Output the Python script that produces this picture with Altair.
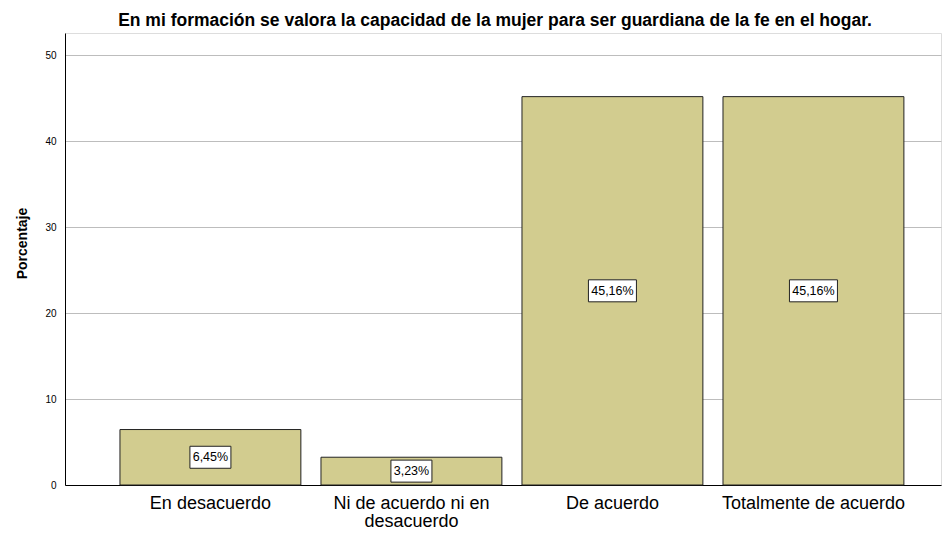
import altair as alt
import pandas as pd

categories = ["En desacuerdo", "Ni de acuerdo ni en desacuerdo", "De acuerdo", "Totalmente de acuerdo"]
percentages = [6.45, 3.23, 45.16, 45.16]
labels = ["6,45%", "3,23%", "45,16%", "45,16%"]

title_text = "En mi formación se valora la capacidad de la mujer para ser guardiana de la fe en el hogar."
y_title = "Porcentaje"
y_ticks = [0, 10, 20, 30, 40, 50]

df = pd.DataFrame({"cat": categories, "pct": percentages, "label": labels})

FONT = "Liberation Sans"

wrap_expr = ("datum.value == 'Ni de acuerdo ni en desacuerdo' ? "
             "['Ni de acuerdo ni en', 'desacuerdo'] : datum.value")

x_enc = alt.X(
    "cat:N", sort=categories, title=None,
    scale=alt.Scale(paddingInner=0.1, paddingOuter=0.229, align=0.597),
    axis=alt.Axis(labelAngle=0, ticks=False, domain=True, domainColor="black",
                  domainWidth=1, labelFontSize=18, labelFont=FONT, labelColor="black",
                  labelPadding=9, labelLineHeight=18, labelExpr=wrap_expr,
                  labelLimit=400, grid=False),
)

y_enc = alt.Y(
    "pct:Q", title=y_title,
    scale=alt.Scale(domain=[0, 52.56], nice=False, zero=True),
    axis=alt.Axis(values=y_ticks, ticks=False, grid=True, gridColor="#BDBDBD",
                  gridWidth=1, domainColor="black", domainWidth=1,
                  labelFont=FONT, labelFontSize=10, labelColor="black", labelPadding=9,
                  titleFont=FONT, titleFontSize=14, titleFontWeight="bold",
                  titleColor="black", titleX=-43, titleY=210, titleAngle=270,
                  titleAlign="center", titleBaseline="middle"),
)

base = alt.Chart(df)

bars = base.mark_bar(fill="#D2CC8F", stroke="#222222", strokeWidth=1).encode(
    x=x_enc, y=y_enc
)

boxes = base.transform_calculate(
    mid="datum.pct / 2",
    w="7 * length(datum.label) + 6",
).transform_calculate(
    shp="'M-1,-' + (22 / datum.w) + 'H1V' + (22 / datum.w) + 'H-1Z'",
    sz="datum.w * datum.w",
).mark_point(filled=True, fill="white", stroke="#222222", strokeWidth=1, opacity=1).encode(
    x=alt.X("cat:N", sort=categories),
    y=alt.Y("mid:Q"),
    shape=alt.Shape("shp:N", scale=None),
    size=alt.Size("sz:Q", scale=None),
)

texts = base.transform_calculate(mid="datum.pct / 2").mark_text(
    font=FONT, fontSize=12.5, color="black", baseline="middle", align="center"
).encode(
    x=alt.X("cat:N", sort=categories),
    y=alt.Y("mid:Q"),
    text="label:N",
)

chart = alt.layer(bars, boxes, texts).properties(
    width=876,
    height=452,
    padding={"left": 57, "top": 25, "right": 1, "bottom": 47},
    autosize="none",
    title=alt.TitleParams(title_text, font=FONT, fontSize=17.5, fontWeight="bold",
                          anchor="middle", dx=-8, offset=4, color="black"),
).configure_view(stroke=None).configure(background="white")

chart.save("out.html", embed_options={"renderer": "svg", "actions": False})
